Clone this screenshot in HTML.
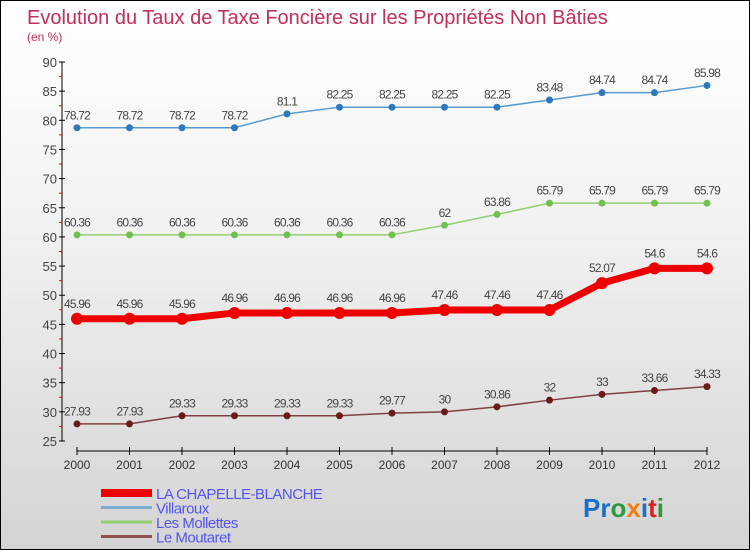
<!DOCTYPE html>
<html><head><meta charset="utf-8"><style>
body{margin:0}
#c{position:relative;width:748px;height:548px;border:1px solid #000;background:linear-gradient(#fff 0%,#f2f2f2 40%,#d4d4d4 100%);font-family:"Liberation Sans",sans-serif;overflow:hidden}
</style></head><body>
<div id="c">
<svg id="s" width="748" height="548" style="position:absolute;left:0;top:0">
<text x="26" y="23" font-size="20" fill="#c0305a">Evolution du Taux de Taxe Foncière sur les Propriétés Non Bâties</text>
<text x="26" y="40" font-size="12" fill="#c0305a">(en %)</text>
<g id="ax"></g><g id="ser"></g><g id="leg"></g>
<text x="582" y="516" font-size="26" font-weight="bold"><tspan fill="#1a70c8">Pr</tspan><tspan fill="#2a9a3a">o</tspan><tspan fill="#f08010">x</tspan><tspan fill="#1a70c8">i</tspan><tspan fill="#e02020">t</tspan><tspan fill="#2a9a3a">i</tspan></text>
</svg>
</div>
<script>
const years=[2000,2001,2002,2003,2004,2005,2006,2007,2008,2009,2010,2011,2012];
const yTicks=[25,30,35,40,45,50,55,60,65,70,75,80,85,90];
const chapelle=[45.96,45.96,45.96,46.96,46.96,46.96,46.96,47.46,47.46,47.46,52.07,54.6,54.6];
const chapelleLbl=["45.96","45.96","45.96","46.96","46.96","46.96","46.96","47.46","47.46","47.46","52.07","54.6","54.6"];
const villaroux=[78.72,78.72,78.72,78.72,81.1,82.25,82.25,82.25,82.25,83.48,84.74,84.74,85.98];
const mollettes=[60.36,60.36,60.36,60.36,60.36,60.36,60.36,62,63.86,65.79,65.79,65.79,65.79];
const moutaret=[27.93,27.93,29.33,29.33,29.33,29.33,29.77,30,30.86,32,33,33.66,34.33];
const names=["LA CHAPELLE-BLANCHE","Villaroux","Les Mollettes","Le Moutaret"];
const NS="http://www.w3.org/2000/svg";
const X=i=>76+i*52.5;
const Y=v=>440-(v-25)*(379/65);
function mk(t,a,p){const e=document.createElementNS(NS,t);for(const k in a)e.setAttribute(k,a[k]);p.appendChild(e);return e;}
const ax=document.getElementById('ax');
const yl=mk('line',{x1:61,y1:61,x2:61,y2:440,stroke:'#000'},ax);


yTicks.forEach(v=>{
  mk('line',{x1:58,x2:64,y1:Y(v),y2:Y(v),stroke:'#000'},ax);
  if(v<90)mk('line',{x1:58,x2:61,y1:Y(v+2.5),y2:Y(v+2.5),stroke:'#e00'},ax);
  const t=mk('text',{x:56,y:Y(v)+5,'font-size':13,'text-anchor':'end',fill:'#444'},ax);t.textContent=v;
  
  
});
const xl=mk('line',{x1:76,y1:450,x2:706,y2:450,stroke:'#000'},ax);


years.forEach((y,i)=>{
  mk('line',{x1:X(i),x2:X(i),y1:446,y2:454,stroke:'#000'},ax);
  const t=mk('text',{x:X(i),y:468,'font-size':12,'text-anchor':'middle',fill:'#333'},ax);t.textContent=y;
  
  
});
const ser=document.getElementById('ser');
function draw(vals,lbls,color,w,r,dotc,name){
  const g=mk('g',{},ser);
  
  
  mk('polyline',{points:vals.map((v,i)=>X(i)+','+Y(v)).join(' '),fill:'none',stroke:color,'stroke-width':w,'stroke-linejoin':'round'},g);
  vals.forEach((v,i)=>{
    const c=mk('circle',{cx:X(i),cy:Y(v),r:r,fill:dotc},g);
    
    
    const t=mk('text',{x:X(i),y:Y(v)-(r+5),'font-size':12,'text-anchor':'middle',fill:'#444','letter-spacing':'-0.8'},g);
    t.textContent=lbls?lbls[i]:String(v);
    
    
  });
}
draw(villaroux,null,'#5a9ad0',1.5,3.5,'#2e78c0','series-villaroux');
draw(mollettes,null,'#90d070',1.5,3.5,'#70c050','series-les-mollettes');
draw(moutaret,null,'#804040',1.5,3.5,'#6a1a1a','series-le-moutaret');
draw(chapelle,chapelleLbl,'#ee0000',7,6,'#ee0000','series-la-chapelle-blanche');
const leg=document.getElementById('leg');
const lc=[['#ee0000',8],['#7aaed0',3],['#90d070',3],['#905050',3]];
names.forEach((n,i)=>{
  const y=492+i*14.5;
  const g=mk('g',{},leg);
  
  
  mk('line',{x1:100,x2:151,y1:y,y2:y,stroke:lc[i][0],'stroke-width':lc[i][1]},g);
  const t=mk('text',{x:155,y:y+6,'font-size':15,fill:'#5555ee','letter-spacing':'-0.5'},g);t.textContent=n;
});
</script>
</body></html>
